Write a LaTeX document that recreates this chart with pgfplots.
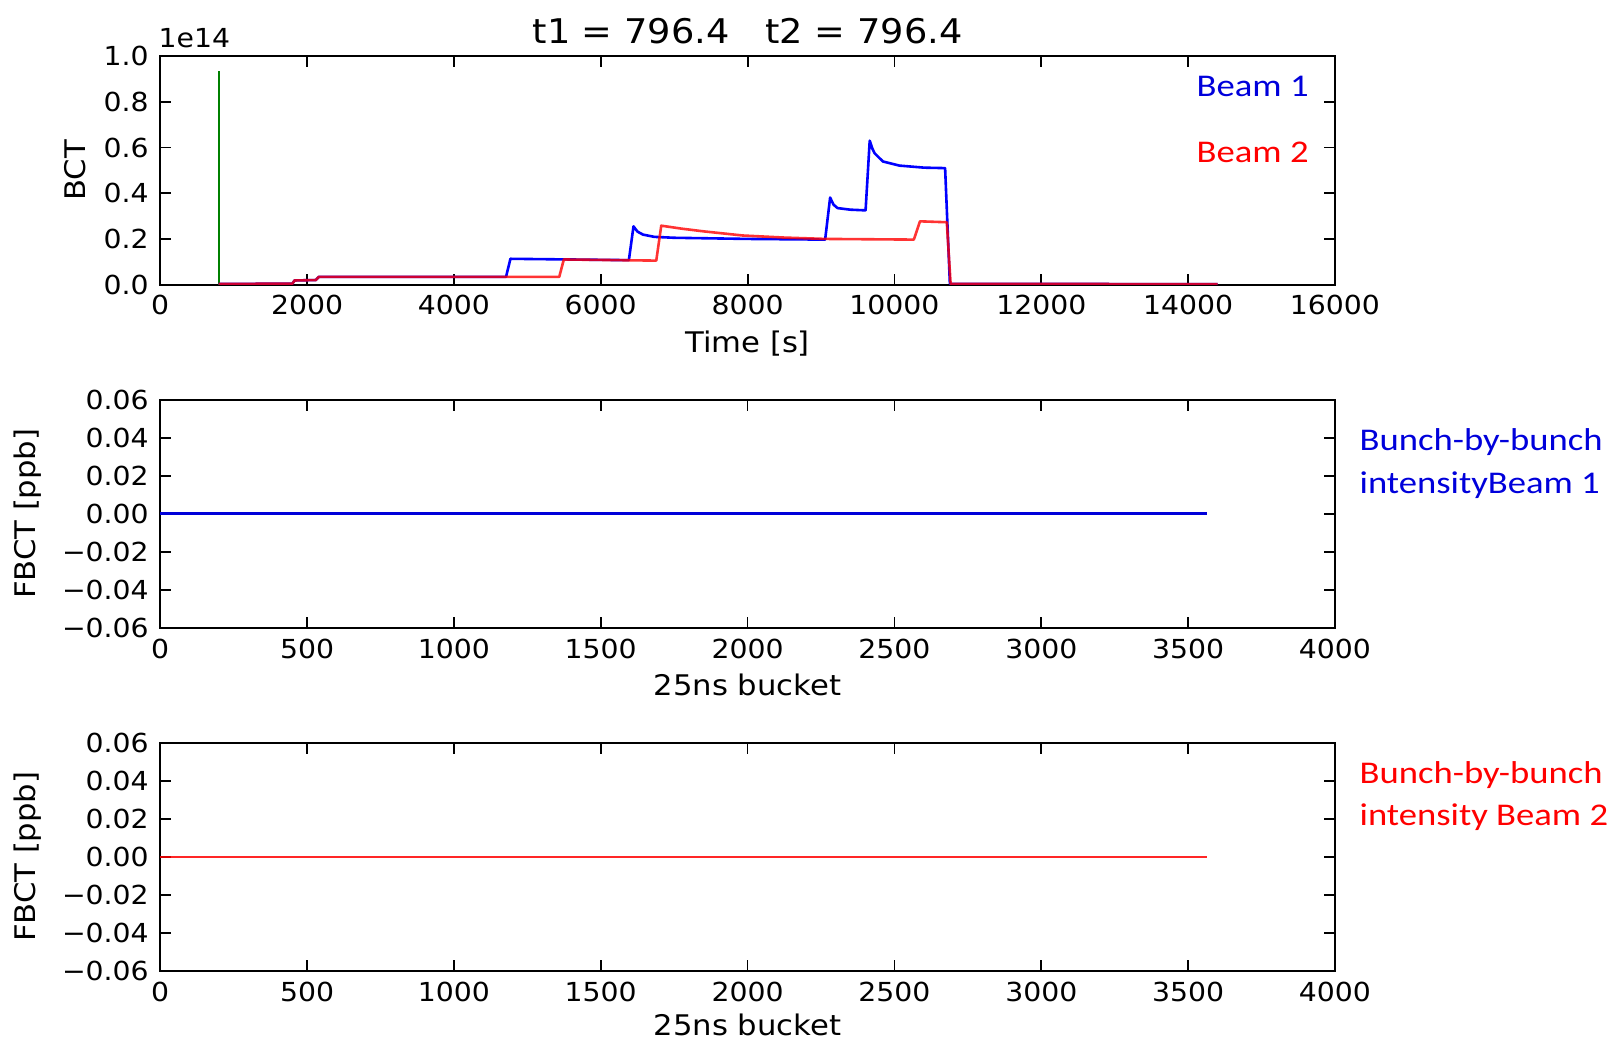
\documentclass[border=0pt]{standalone}
\usepackage{pgfplots}
\pgfplotsset{compat=1.18}
\usepackage{fontspec}
\setmainfont{DejaVu Sans}[FakeStretch=1.08]
\newfontfamily\calibri{Carlito}[FakeStretch=1.16]
\definecolor{mplblue}{rgb}{0,0,1}
\definecolor{mplred}{rgb}{1,0,0}
\definecolor{mplgreen}{rgb}{0,0.5,0}
\definecolor{annblue}{rgb}{0,0,0.86}
\definecolor{annred}{rgb}{1,0,0}

\pgfplotsset{
  myax/.style={
    scale only axis, width=587.4pt, height=114.2pt, anchor=south west,
    axis line style={line width=1pt},
    tick pos=both, tick align=inside,
    major tick length=5.5pt,
    every tick/.style={black, line width=0.9pt},
    tick label style={font=\fontsize{13.1}{15}\selectfont},
    xticklabel shift=1.8pt, yticklabel shift=2.2pt,
    label style={font=\fontsize{14.2}{17}\selectfont},
    xlabel style={at={(axis description cs:0.5,-0.297)}, anchor=base},
    scaled ticks=false,
    clip mode=individual,
  },
  fbct/.style={
    myax, xmin=0, xmax=4000, ymin=-0.06, ymax=0.06,
    xtick={0,500,1000,1500,2000,2500,3000,3500,4000},
    xticklabels={0,500,1000,1500,2000,2500,3000,3500,4000},
    ytick={-0.06,-0.04,-0.02,0,0.02,0.04,0.06},
    yticklabels={−0.06,−0.04,−0.02,0.00,0.02,0.04,0.06},
    xlabel={25ns bucket}, ylabel={FBCT [ppb]},
    ylabel style={at={(axis description cs:-0.1125,0.5)}, anchor=center},
  }
}

\begin{document}
\begin{tikzpicture}
\path[use as bounding box] (0,0) rectangle (807pt,520.5pt);

% ---------- top: BCT ----------
\begin{axis}[myax, at={(80.1pt,378.2pt)},
  xmin=0, xmax=16000, ymin=0, ymax=1,
  xtick={0,2000,4000,6000,8000,10000,12000,14000,16000},
  xticklabels={0,2000,4000,6000,8000,10000,12000,14000,16000},
  ytick={0,0.2,0.4,0.6,0.8,1},
  yticklabels={0.0,0.2,0.4,0.6,0.8,1.0},
  xlabel={Time [s]}, ylabel={BCT},
  ylabel style={at={(axis description cs:-0.0725,0.5)}, anchor=center},
  every axis title shift=0pt,
  title={t1 = 796.4\hspace{18pt}t2 = 796.4},
  title style={at={(axis description cs:0.5,1.056)}, anchor=base, font=\fontsize{17}{20}\selectfont},
]
\addplot[mplgreen, line width=1.1pt] coordinates {(796.4,0) (796.4,0.935)};
\addplot[mplblue, line width=1.3pt, line join=round] coordinates {
(796.4,0.003) (1800,0.004) (1830,0.018) (2120,0.020) (2160,0.034)
(4710,0.034) (4770,0.113) (6383,0.107) (6446,0.255) (6500,0.232)
(6575,0.219) (6730,0.209) (7000,0.205) (8000,0.200) (9056,0.197)
(9124,0.381) (9170,0.350) (9225,0.335) (9400,0.328) (9607,0.325)
(9663,0.630) (9700,0.595) (9730,0.575) (9843,0.539) (10067,0.521)
(10404,0.512) (10690,0.510) (10755,0.003) (14400,0.002)
};
\addplot[mplred, opacity=0.8, line width=1.3pt, line join=round] coordinates {
(796.4,0.003) (1800,0.004) (1830,0.018) (2120,0.020) (2160,0.034)
(5435,0.034) (5497,0.110) (6756,0.105) (6824,0.258) (7100,0.245)
(7404,0.233) (7933,0.215) (8494,0.206) (9056,0.200) (10264,0.197)
(10348,0.277) (10713,0.273) (10765,0.003) (14400,0.002)
};
\node[anchor=base west, inner sep=0, font=\fontsize{13.1}{15}\selectfont]
  at (axis description cs:-0.0016,1.0385) {1e14};
\end{axis}

% ---------- middle: FBCT beam 1 ----------
\begin{axis}[fbct, at={(80.1pt,206.5pt)}]
\addplot[mplblue!85!black, line width=1.4pt] coordinates {(0,0) (3564,0)};
\end{axis}

% ---------- bottom: FBCT beam 2 ----------
\begin{axis}[fbct, at={(80.1pt,35pt)},
  xlabel style={at={(axis description cs:0.5,-0.283)}, anchor=base}]
\addplot[mplred, opacity=0.85, line width=1.3pt] coordinates {(0,0) (3564,0)};
\end{axis}

% ---------- annotations ----------
\begin{scope}[every node/.style={inner sep=0, font=\calibri\fontsize{15.8}{19}\selectfont}]
\node[anchor=base east, text=annblue] at (654.5pt,472.2pt) {Beam 1};
\node[anchor=base east, text=annred] at (654.5pt,439.25pt) {Beam 2};
\node[anchor=base west, text=annblue] at (679.6pt,295.2pt) {Bunch-by-bunch};
\node[anchor=base west, text=annblue] at (679.6pt,273.5pt) {intensityBeam 1};
\node[anchor=base west, text=annred] at (679.6pt,129.0pt) {Bunch-by-bunch};
\node[anchor=base west, text=annred] at (679.6pt,107.6pt) {intensity Beam 2};
\end{scope}
\end{tikzpicture}
\end{document}
